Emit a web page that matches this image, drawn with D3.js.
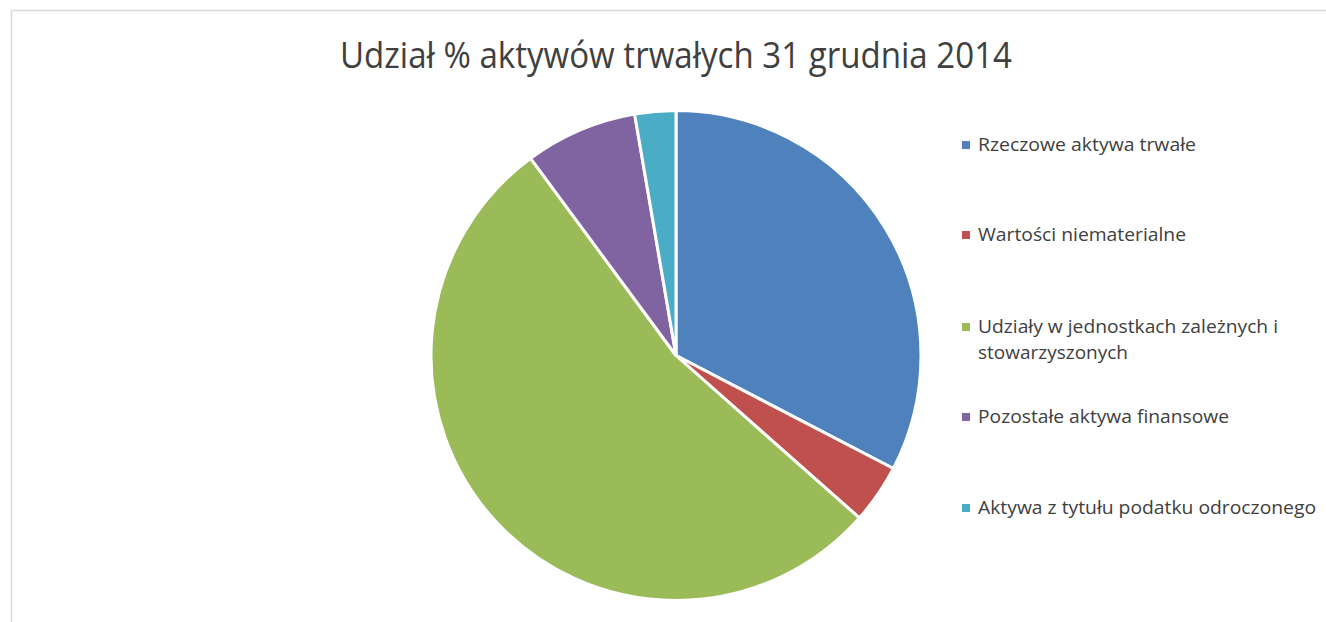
<!DOCTYPE html>
<html><head><meta charset="utf-8">
<script src="https://cdn.jsdelivr.net/npm/d3@7"></script>
<style>body{margin:0;background:#fff}svg{display:block}</style>
</head><body>
<svg id="c" width="1326" height="622"></svg>
<script>
const title = "Udział % aktywów trwałych 31 grudnia 2014";
const categories = ["Rzeczowe aktywa trwałe","Wartości niematerialne","Udziały w jednostkach zależnych i stowarzyszonych","Pozostałe aktywa finansowe","Aktywa z tytułu podatku odroczonego"];
const legendLines = [["Rzeczowe aktywa trwałe"],["Wartości niematerialne"],["Udziały w jednostkach zależnych i","stowarzyszonych"],["Pozostałe aktywa finansowe"],["Aktywa z tytułu podatku odroczonego"]];
const values = [32.6, 3.9, 53.3, 7.4, 2.7];
const colors = ["#4F81BD","#C0504D","#9BBB59","#8064A2","#4BACC6"];

const svg = d3.select("#c");
const font = "'Open Sans', 'DejaVu Sans', sans-serif";

// frame
svg.append("path").attr("d","M11.5,622 V10.5 H1326").attr("fill","none").attr("stroke","#d9d9d9").attr("stroke-width",1.5);

// title
const t = svg.append("text").attr("x",340).attr("y",68).attr("font-family",font).attr("font-size",37).attr("fill","#404040").text(title);
t.attr("textLength",672).attr("lengthAdjust","spacingAndGlyphs");

// pie
const cx = 676, cy = 355.5, r = 245;
const pie = d3.pie().sort(null).value(d=>d);
const arc = d3.arc().innerRadius(0).outerRadius(r);
const color = d3.scaleOrdinal().domain(categories).range(colors);
const g = svg.append("g").attr("transform",`translate(${cx},${cy})`);
g.selectAll("path").data(pie(values)).join("path")
  .attr("d",arc).attr("fill",(d,i)=>color(categories[i]))
  .attr("stroke","#fff").attr("stroke-width",3).attr("stroke-linejoin","round");

// legend
const rowY = [145, 235, 327, 417, 508];
const lineH = 26;
const lg = svg.append("g");
categories.forEach((c,i)=>{
  lg.append("rect").attr("x",962).attr("y",rowY[i]-4).attr("width",8).attr("height",8).attr("fill",color(c));
  legendLines[i].forEach((ln,j)=>{
    lg.append("text").attr("x",978).attr("y",rowY[i]+j*lineH).attr("dy","0.35em")
      .attr("font-family",font).attr("font-size",18).attr("fill","#404040").text(ln);
  });
});
// fit legend widths to reference
const widths = {"Rzeczowe aktywa trwałe":218,"Wartości niematerialne":208,"Udziały w jednostkach zależnych i":300,
  "stowarzyszonych":150,"Pozostałe aktywa finansowe":251,"Aktywa z tytułu podatku odroczonego":338};
lg.selectAll("text").each(function(){
  const s=d3.select(this); const w=widths[s.text()]; if(w) s.attr("textLength",w).attr("lengthAdjust","spacingAndGlyphs");
});
</script>
</body></html>
